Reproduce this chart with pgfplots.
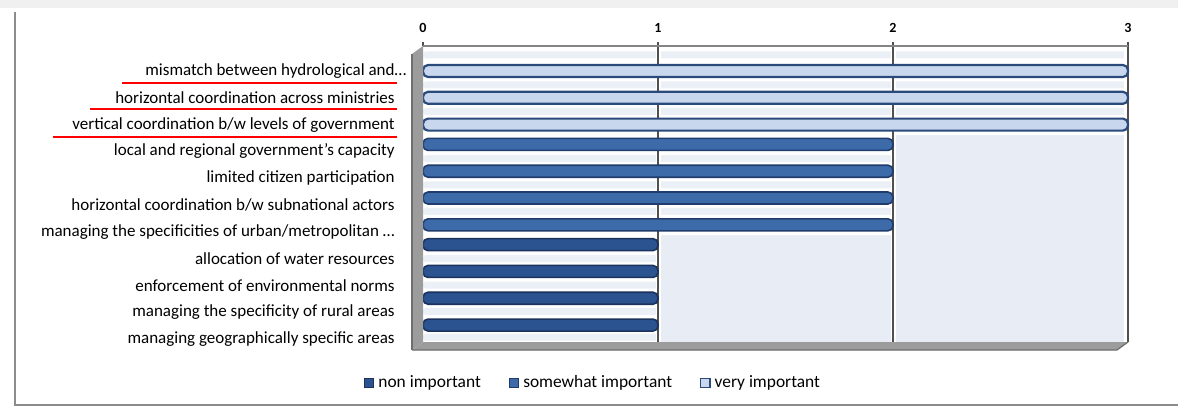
\documentclass[border=0pt]{standalone}
\usepackage{fontspec}
\setmainfont{Carlito}
\usepackage{pgfplots}
\pgfplotsset{compat=1.18}

\definecolor{lightreg}{HTML}{E8ECF4}
\definecolor{stripe}{HTML}{EBEFF6}
\definecolor{gridc}{HTML}{505050}
\definecolor{wallgray}{HTML}{9C9C9C}
\definecolor{walledge}{HTML}{6E6E6E}
\definecolor{nonfill}{HTML}{2A5390}
\definecolor{nondraw}{HTML}{1A325C}
\definecolor{somefill}{HTML}{3D6BAA}
\definecolor{somedraw}{HTML}{1F3C6C}
\definecolor{veryfill}{HTML}{C8D7EE}
\definecolor{verydraw}{HTML}{2B4A7C}
\definecolor{frame}{HTML}{8C8C8C}

\begin{document}
\begin{tikzpicture}
% page frame, measured in px (1px = 0.5pt), y upwards
\begin{scope}[x=0.5pt,y=0.5pt]
  \path[use as bounding box] (0,0) rectangle (1178,414);
  \fill[gray!12] (0,406) rectangle (1178,414);
  \draw[frame, line width=1pt] (15,402) -- (15,9) -- (1178,9);
\end{scope}

\begin{axis}[
  at={(211.5pt,36pt)}, anchor=south west,
  width=352.5pt, height=148pt, scale only axis,
  xmin=0, xmax=3, ymin=-0.11, ymax=10.933,
  clip=false,
  /pgf/number format/assume math mode=true,
  axis background/.style={fill=lightreg},
  axis line style={draw=none},
  xtick={0,1,2,3},
  xtick pos=right, xticklabel pos=right,
  tick align=outside, major tick length=2pt,
  x tick style={gridc, line width=0.6pt},
  xticklabel style={font=\bfseries\fontsize{7}{8}\selectfont, yshift=1pt},
  ytick={0,...,10},
  y tick style={draw=none},
  yticklabels={
    managing geographically specific areas,
    managing the specificity of rural areas,
    enforcement of environmental norms,
    allocation of water resources,
    managing the specificities of urban/metropolitan \dots,
    horizontal coordination b/w subnational actors,
    limited citizen participation,
    local and regional government's capacity,
    vertical coordination b/w levels of government,
    horizontal coordination across ministries,
    mismatch between hydrological and\rlap{\dots}},
  yticklabel style={font=\fontsize{8.5}{9}\selectfont, anchor=east, inner sep=0pt, xshift=-12pt},
  legend columns=3,
  legend style={at={(axis description cs:0.2426,-0.1385)}, anchor=center,
    draw=none, fill=none, font=\fontsize{8.7}{9}\selectfont,
    /tikz/every even column/.append style={column sep=12pt}},
  legend image code/.code={\draw[#1, rounded corners=0pt, line width=0.6pt] (0pt,-2.3pt) rectangle (4.6pt,2.3pt);},
]
% area in front of the bars' depth, left white
\addplot[forget plot, fill=white, draw=none]
  coordinates {(0,10.933) (3,10.933) (3,7.612) (2,7.612) (2,3.88) (1,3.88) (1,-0.11) (0,-0.11)} -- cycle;
% faint stripes between the bars
\addplot[forget plot, xbar, bar shift=0pt, bar width=3.5pt, fill=stripe, draw=none, rounded corners=1.5pt]
  coordinates {(3,10.60) (3,9.48) (3,8.49) (2,6.73) (2,5.75) (2,4.76) (1,3.00) (1,2.01) (1,1.03) (1,0.07)};
% grid lines with a small white margin
\addplot[forget plot, white, line width=2.5pt] coordinates {(1,-0.11) (1,10.933)};
\addplot[forget plot, white, line width=2.5pt] coordinates {(2,-0.11) (2,10.933)};
\addplot[forget plot, white, line width=2.5pt] coordinates {(2.995,-0.11) (2.995,10.933)};
\addplot[forget plot, gridc, line width=0.7pt] coordinates {(1,-0.11) (1,10.933)};
\addplot[forget plot, gridc, line width=0.7pt] coordinates {(2,-0.11) (2,10.933)};
\addplot[forget plot, gridc, line width=0.7pt] coordinates {(3,-0.11) (3,10.933)};
\addplot[forget plot, gridc!70, line width=0.7pt] coordinates {(0,10.933) (3,10.933)};

% the three answers
\addplot[xbar, bar shift=7pt, bar width=6pt, fill=nonfill, draw=nondraw, line width=0.8pt, rounded corners=2.5pt]
  coordinates {(1,3) (1,2) (1,1) (1,0)};
\addlegendentry{non important}
\addplot[xbar, bar shift=3.5pt, bar width=6pt, fill=somefill, draw=somedraw, line width=0.8pt, rounded corners=2.5pt]
  coordinates {(2,7) (2,6) (2,5) (2,4)};
\addlegendentry{somewhat important}
\addplot[xbar, bar shift=0pt, bar width=6pt, fill=veryfill, draw=verydraw, line width=1.1pt, rounded corners=2.5pt]
  coordinates {(3,10) (3,9) (3,8)};
\addlegendentry{very important}
\end{axis}

\begin{scope}[x=0.5pt,y=0.5pt]
  % side wall and floor of the plot box
  \fill[wallgray] (423,368) -- (423,72) -- (412,64) -- (412,360) -- cycle;
  \draw[walledge, line width=0.6pt] (412,360) -- (412,64);
  \fill[wallgray] (423,72) -- (1128,72) -- (1117,64) -- (412,64) -- cycle;
  \draw[walledge, line width=0.6pt] (412,64) -- (1117,64) -- (1128,72);
  % underlined items
  \draw[red, line width=1pt] (122,331) -- (397,331);
  \draw[red, line width=1pt] (90,305) -- (397,305);
  \draw[red, line width=1pt] (53,277) -- (397,277);
\end{scope}
\end{tikzpicture}
\end{document}
